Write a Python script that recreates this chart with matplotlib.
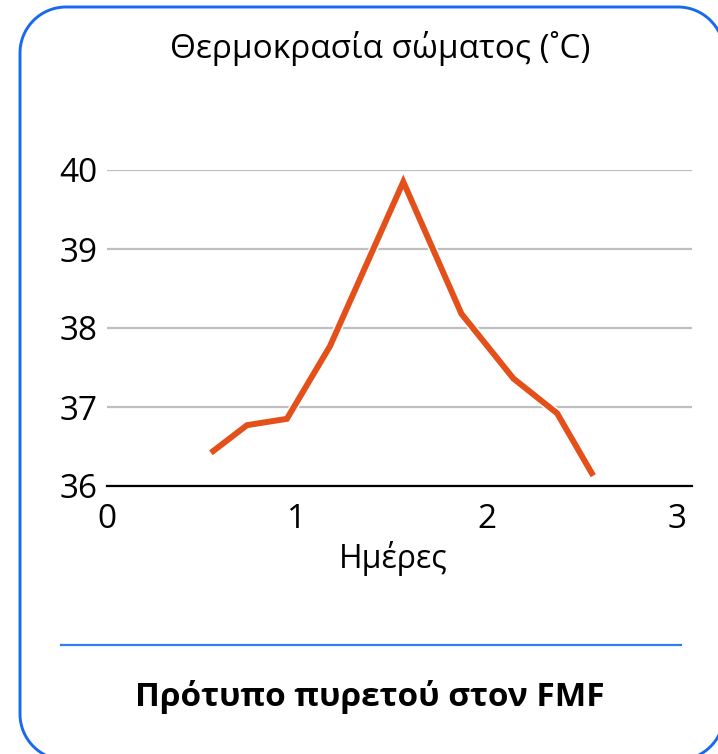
import numpy as np
import matplotlib.pyplot as plt
import matplotlib.patheffects as pe
from matplotlib.patches import Polygon
from matplotlib.lines import Line2D
from matplotlib.transforms import IdentityTransform

plt.rcParams['font.family'] = ['Open Sans', 'DejaVu Sans']

# body temperature over days of an FMF attack
days = [0.547, 0.737, 0.947, 1.174, 1.56, 1.866, 2.14, 2.37, 2.56]
temps = [36.42, 36.77, 36.85, 37.77, 39.85, 38.18, 37.36, 36.92, 36.13]
x_ticks = [0, 1, 2, 3]
y_ticks = [36, 37, 38, 39, 40]

W, H = 718, 754
fig = plt.figure(figsize=(W / 100, H / 100), dpi=100)


def rounded_outline(x0, y0, x1, y1, r, n=30):
    # closed outline of a rounded rectangle in pixel units (y up)
    pts = []
    corners = [(x1 - r, y1 - r, 0), (x0 + r, y1 - r, 90),
               (x0 + r, y0 + r, 180), (x1 - r, y0 + r, 270)]
    for cx, cy, a in corners:
        t = np.radians(np.linspace(a, a + 90, n))
        pts.extend(zip(cx + r * np.cos(t), cy + r * np.sin(t)))
    return np.array(pts)


frame = Polygon(rounded_outline(20, -6, 724, H - 7, 46), closed=True, fill=False,
                edgecolor='#1769f0', linewidth=2.1, transform=IdentityTransform())
fig.patches.append(frame)

ax = fig.add_axes([107 / W, 1 - 486 / H, (692 - 107) / W, (486 - 170) / H])
ax.plot(days, temps, color='#e4501a', linewidth=4.3, solid_joinstyle='miter',
        solid_capstyle='butt', zorder=3,
        path_effects=[pe.Stroke(linewidth=6.5, foreground='white'), pe.Normal()])

ax.set_xlim(0, 3.08)
ax.set_ylim(36, 40)
ax.set_xticks(x_ticks)
ax.set_yticks(y_ticks)
ax.tick_params(length=0, labelsize=24)
ax.tick_params(axis='x', pad=12)
ax.tick_params(axis='y', pad=7)
for s in ['top', 'right', 'left']:
    ax.spines[s].set_visible(False)
ax.spines['bottom'].set_linewidth(1.6)
ax.spines['bottom'].set_color('black')
ax.yaxis.grid(True, color='#bfbfbf', linewidth=1.6)
ax.set_axisbelow(True)
ax.set_xlabel('Ημέρες', fontsize=23, va='center')
ax.xaxis.set_label_coords((393 - 107) / (692 - 107), -(559 - 486) / (486 - 170))

fig.text(380 / W, 1 - 48 / H, 'Θερμοκρασία σώματος (˚C)', ha='center', va='center', fontsize=24)

fig.add_artist(Line2D([61 / W, 681 / W], [1 - 645 / H, 1 - 645 / H],
                      color='#2f7fef', linewidth=1.6))

fig.text(370 / W, 1 - 697 / H, 'Πρότυπο πυρετού στον FMF', ha='center', va='center',
         fontsize=24, fontweight='bold')

fig.savefig('out.png', dpi=100)
